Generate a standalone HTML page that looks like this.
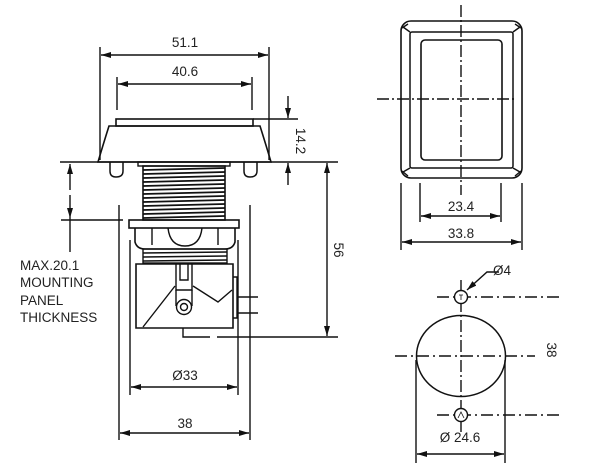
<!DOCTYPE html>
<html><head><meta charset="utf-8"><style>
html,body{margin:0;padding:0;background:#fff;}
svg{display:block;}
text{font-family:"Liberation Sans",Arial,sans-serif;fill:#222;}
</style></head><body>
<svg width="600" height="476" viewBox="0 0 600 476" xmlns="http://www.w3.org/2000/svg">
<defs>
<marker id="a" viewBox="0 0 10 6" refX="10" refY="3" markerWidth="10" markerHeight="6" orient="auto-start-reverse" markerUnits="userSpaceOnUse"><path d="M0,0 L10,3 L0,6 z" fill="#111"/></marker>
</defs>
<g stroke="#111" stroke-width="1.4" fill="none">
<line x1="100" y1="47" x2="100" y2="160"/><line x1="269" y1="47" x2="269" y2="160"/>
<line x1="101" y1="55" x2="268" y2="55" marker-start="url(#a)" marker-end="url(#a)"/>
<line x1="117" y1="77" x2="117" y2="110"/><line x1="252" y1="77" x2="252" y2="110"/>
<line x1="118" y1="84" x2="251" y2="84" marker-start="url(#a)" marker-end="url(#a)"/>
<rect x="116" y="119" width="137" height="7" stroke-width="1.6"/>
<path d="M109,126 L260,126 Q266,145 271,162 L98,162 Q103,145 109,126 Z" stroke-width="1.6"/>
<line x1="253" y1="119" x2="298" y2="119"/>
<line x1="60" y1="162" x2="338" y2="162"/>
<line x1="288" y1="96" x2="288" y2="118" marker-end="url(#a)"/>
<line x1="288" y1="185" x2="288" y2="163" marker-end="url(#a)"/>
<path d="M110,162 L110,171 Q110,177 116,177 Q123,177 123,171 L123,162" stroke-width="1.5"/>
<path d="M244,162 L244,171 Q244,177 250,177 Q257,177 257,171 L257,162" stroke-width="1.5"/>
<rect x="138" y="162" width="92" height="4"/>
<rect x="143" y="166" width="82" height="54" stroke-width="1.6"/>
<g stroke-width="1.7">
<line x1="143" y1="170" x2="225" y2="168"/><line x1="143" y1="174" x2="225" y2="172"/>
<line x1="143" y1="178" x2="225" y2="176"/><line x1="143" y1="182" x2="225" y2="180"/>
<line x1="143" y1="186" x2="225" y2="184"/><line x1="143" y1="190" x2="225" y2="188"/>
<line x1="143" y1="194" x2="225" y2="192"/><line x1="143" y1="198" x2="225" y2="196"/>
<line x1="143" y1="202" x2="225" y2="200"/><line x1="143" y1="206" x2="225" y2="204"/>
<line x1="143" y1="210" x2="225" y2="208"/><line x1="143" y1="214" x2="225" y2="212"/>
<line x1="143" y1="218" x2="225" y2="216"/>
</g>
<line x1="70" y1="190" x2="70" y2="164" marker-end="url(#a)"/>
<line x1="70" y1="195" x2="70" y2="218" marker-end="url(#a)"/>
<line x1="70" y1="218" x2="70" y2="252"/>
<line x1="61" y1="220" x2="123" y2="220"/>
<rect x="129" y="220" width="110" height="8" stroke-width="1.6"/>
<path d="M135,228 L135,242 Q137,249 145,249 L225,249 Q233,249 235,242 L235,228" stroke-width="1.6"/>
<path d="M152,228 L152,245 M168,228 Q170,246 185,246 Q200,246 202,228 M218,228 L218,245"/>
<rect x="143" y="249" width="84" height="14"/>
<line x1="143" y1="253" x2="227" y2="252"/><line x1="143" y1="257" x2="227" y2="256"/><line x1="143" y1="261" x2="227" y2="260"/>
<path d="M136,264 L233,264 L233,328 L136,328 Z" stroke-width="1.6"/>
<path d="M233,277 L237,277 L237,318 L233,318"/>
<line x1="237" y1="297" x2="258" y2="297"/><line x1="237" y1="313" x2="258" y2="313"/>
<path d="M176,264 L176,290 L192,290 L192,264 M180,264 L180,280 L188,280 L188,264"/>
<path d="M143,327 L175,286 M193,286 L218,302 L232,290"/>
<path d="M176,290 L176,306 M192,290 L192,306"/>
<circle cx="184" cy="307" r="7.5"/><circle cx="184" cy="307" r="3.5"/>
<path d="M183,328 L183,337 L210,337"/><line x1="217" y1="337" x2="338" y2="337"/>
<line x1="327" y1="163" x2="327" y2="336" marker-start="url(#a)" marker-end="url(#a)"/>
<line x1="119" y1="205" x2="119" y2="440"/><line x1="250" y1="205" x2="250" y2="440"/>
<line x1="130" y1="240" x2="130" y2="395"/><line x1="238" y1="240" x2="238" y2="395"/>
<line x1="131" y1="387" x2="237" y2="387" marker-start="url(#a)" marker-end="url(#a)"/>
<line x1="120" y1="433" x2="249" y2="433" marker-start="url(#a)" marker-end="url(#a)"/>

<rect x="401" y="21" width="121" height="157" rx="10" stroke-width="1.6"/>
<rect x="410" y="32" width="103" height="136" rx="2" stroke-width="1.5"/>
<rect x="421" y="40" width="81" height="120" rx="4" stroke-width="1.6"/>
<path d="M402,28 L408,24 M410,32 L403,27 M521,28 L515,24 M513,32 L520,27 M402,171 L408,176 M410,168 L403,172 M521,171 L515,176 M513,168 L520,172"/>
<line x1="461" y1="5" x2="461" y2="195" stroke-dasharray="12,3,2,3"/>
<line x1="377" y1="99" x2="517" y2="99" stroke-dasharray="12,3,2,3"/>
<line x1="420" y1="183" x2="420" y2="222"/><line x1="501" y1="183" x2="501" y2="222"/>
<line x1="421" y1="216" x2="500" y2="216" marker-start="url(#a)" marker-end="url(#a)"/>
<line x1="401" y1="183" x2="401" y2="250"/><line x1="522" y1="183" x2="522" y2="250"/>
<line x1="402" y1="242" x2="521" y2="242" marker-start="url(#a)" marker-end="url(#a)"/>

<line x1="461" y1="280" x2="461" y2="432" stroke-dasharray="12,3,2,3"/>
<line x1="437" y1="297" x2="560" y2="297" stroke-dasharray="12,4,2,4"/>
<line x1="395" y1="356" x2="535" y2="356" stroke-dasharray="12,4,2,4"/>
<line x1="437" y1="415" x2="560" y2="415" stroke-dasharray="12,4,2,4"/>
<circle cx="461" cy="297" r="6.5" fill="#fff"/>
<circle cx="461" cy="415" r="6.5" fill="#fff"/>
<ellipse cx="461" cy="356" rx="44.5" ry="40.5" stroke-width="1.5"/>
<path d="M499,272 L487,272 L467,290" marker-end="url(#a)"/>
<line x1="416" y1="360" x2="416" y2="463"/><line x1="505" y1="360" x2="505" y2="463"/>
<line x1="417" y1="454" x2="504" y2="454" marker-start="url(#a)" marker-end="url(#a)"/>
</g>
<g stroke="#111" stroke-width="0.8" fill="none">
<path d="M459,295 L463,295 M461,295 L461,300"/><path d="M458,418 L461,412 L464,418"/>
</g>
<g font-size="13.5">
<text x="185" y="47" text-anchor="middle">51.1</text>
<text x="185" y="76" text-anchor="middle">40.6</text>
<text x="185" y="380" text-anchor="middle">Ø33</text>
<text x="185" y="428" text-anchor="middle">38</text>
<text x="20" y="270">MAX.20.1</text>
<text x="20" y="287">MOUNTING</text>
<text x="20" y="305">PANEL</text>
<text x="20" y="322">THICKNESS</text>
<text transform="translate(296,141) rotate(90)" text-anchor="middle">14.2</text>
<text transform="translate(334,250) rotate(90)" text-anchor="middle">56</text>
<text x="461" y="211" text-anchor="middle">23.4</text>
<text x="461" y="238" text-anchor="middle">33.8</text>
<text x="502" y="275" text-anchor="middle">Ø4</text>
<text transform="translate(547,350) rotate(90)" text-anchor="middle">38</text>
<text x="460" y="442" text-anchor="middle">Ø 24.6</text>
</g>
</svg>
</body></html>
